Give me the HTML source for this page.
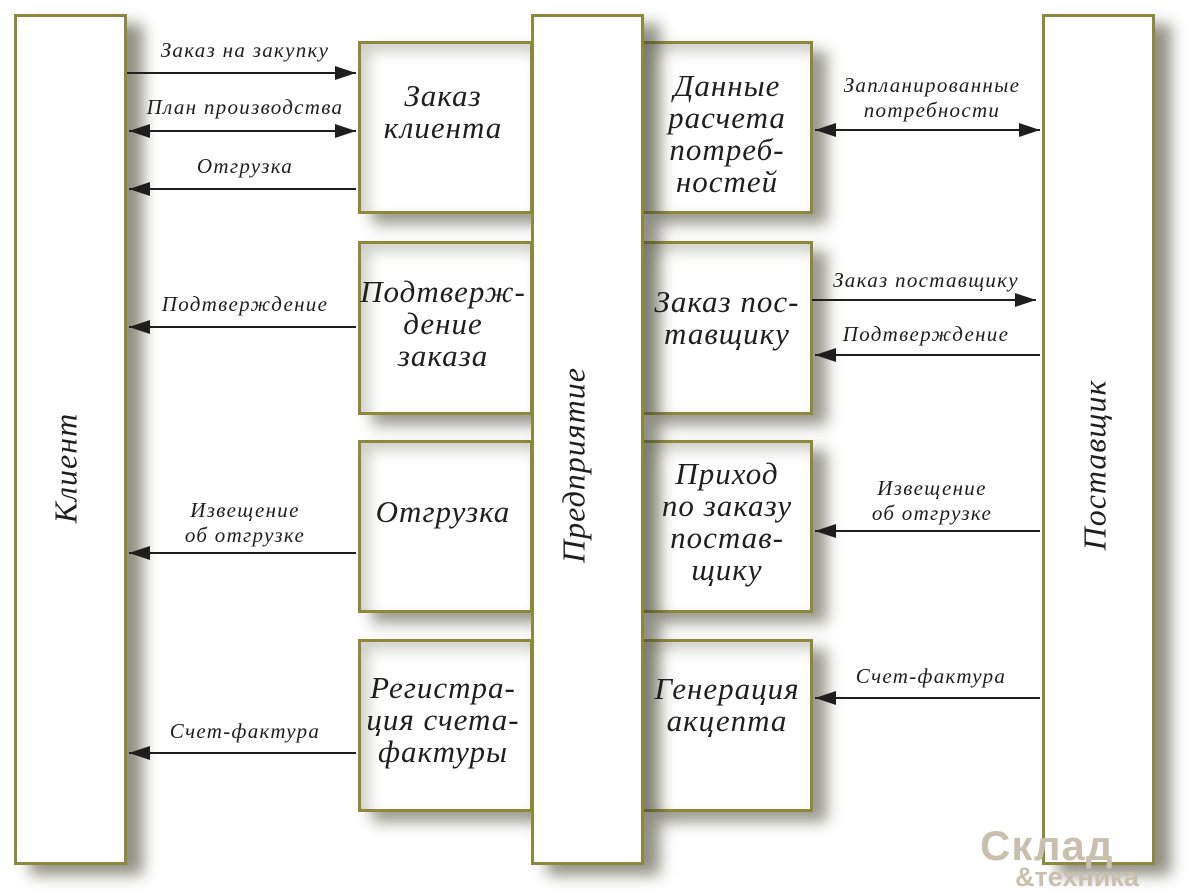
<!DOCTYPE html>
<html><head><meta charset="utf-8"><style>
body{margin:0;width:1200px;height:895px;background:#fff;position:relative;overflow:hidden;font-family:"Liberation Serif",serif;font-style:italic;color:#1e1e1e}
.b{position:absolute;box-sizing:border-box;border:3px solid #8c8a3a;background:#fff;box-shadow:14px 10px 14px rgba(70,70,50,.55), inset 8px 8px 14px rgba(120,120,100,.35)}
.bar{position:absolute;box-sizing:border-box;border:3px solid #8c8a3a;background:#fff;box-shadow:16px 10px 14px rgba(70,70,50,.6)}
.t{position:absolute;text-align:center;font-size:31px;line-height:32px;letter-spacing:1px;display:flex;align-items:center;justify-content:center;white-space:nowrap}
.v{position:absolute;font-size:32px;letter-spacing:1px;transform:translate(-50%,-50%) rotate(-90deg);white-space:nowrap}
.l{position:absolute;font-size:21px;line-height:25px;letter-spacing:1.3px;text-align:center;white-space:nowrap;transform:translateX(-50%)}
svg{position:absolute;left:0;top:0}
</style></head><body>
<div class="b" style="left:358px;top:41px;width:175px;height:173px"></div>
<div class="b" style="left:358px;top:241px;width:175px;height:174px"></div>
<div class="b" style="left:358px;top:440px;width:175px;height:173px"></div>
<div class="b" style="left:358px;top:639px;width:175px;height:173px"></div>
<div class="b" style="left:641px;top:41px;width:172px;height:173px"></div>
<div class="b" style="left:641px;top:241px;width:172px;height:174px"></div>
<div class="b" style="left:641px;top:440px;width:172px;height:173px"></div>
<div class="b" style="left:641px;top:639px;width:172px;height:173px"></div>
<div class="bar" style="left:14px;top:14px;width:113px;height:851px"></div>
<div class="bar" style="left:531px;top:14px;width:113px;height:851px"></div>
<div class="bar" style="left:1042px;top:14px;width:113px;height:851px"></div>
<div class="v" style="left:66px;top:468px">Клиент</div>
<div class="v" style="left:574px;top:465px">Предприятие</div>
<div class="v" style="left:1095px;top:465px">Поставщик</div>
<div class="t" style="left:358px;top:80px;width:170px;height:64px">Заказ<br>клиента</div>
<div class="t" style="left:358px;top:276px;width:170px;height:96px">Подтверж-<br>дение<br>заказа</div>
<div class="t" style="left:358px;top:494px;width:170px;height:36px">Отгрузка</div>
<div class="t" style="left:358px;top:672px;width:170px;height:96px">Регистра-<br>ция счета-<br>фактуры</div>
<div class="t" style="left:644px;top:70px;width:166px;height:128px">Данные<br>расчета<br>потреб-<br>ностей</div>
<div class="t" style="left:644px;top:286px;width:166px;height:64px">Заказ пос-<br>тавщику</div>
<div class="t" style="left:644px;top:458px;width:166px;height:128px">Приход<br>по заказу<br>постав-<br>щику</div>
<div class="t" style="left:644px;top:673px;width:166px;height:64px">Генерация<br>акцепта</div>
<div class="l" style="left:245px;top:38px">Заказ на закупку</div>
<div class="l" style="left:245px;top:95px">План производства</div>
<div class="l" style="left:245px;top:154px">Отгрузка</div>
<div class="l" style="left:245px;top:292px">Подтверждение</div>
<div class="l" style="left:245px;top:498px">Извещение<br>об отгрузке</div>
<div class="l" style="left:245px;top:719px">Счет-фактура</div>
<div class="l" style="left:932px;top:73px">Запланированные<br>потребности</div>
<div class="l" style="left:926px;top:268px">Заказ поставщику</div>
<div class="l" style="left:926px;top:322px">Подтверждение</div>
<div class="l" style="left:932px;top:476px">Извещение<br>об отгрузке</div>
<div class="l" style="left:931px;top:664px">Счет-фактура</div>
<svg width="1200" height="895">
<defs>
<marker id="a" markerWidth="22" markerHeight="16" refX="21" refY="8" orient="auto-start-reverse" markerUnits="userSpaceOnUse"><path d="M0,1L21,8L0,15z" fill="#1e1e1e"/></marker>
</defs>
<g stroke="#1e1e1e" stroke-width="2" fill="none">
<path d="M127,73H356" marker-end="url(#a)"/>
<path d="M129,131H356" marker-start="url(#a)" marker-end="url(#a)"/>
<path d="M129,189H356" marker-start="url(#a)"/>
<path d="M129,327H356" marker-start="url(#a)"/>
<path d="M129,553H356" marker-start="url(#a)"/>
<path d="M129,753H356" marker-start="url(#a)"/>
<path d="M815,130H1040" marker-start="url(#a)" marker-end="url(#a)"/>
<path d="M812,300H1036" marker-end="url(#a)"/>
<path d="M815,355H1040" marker-start="url(#a)"/>
<path d="M815,531H1040" marker-start="url(#a)"/>
<path d="M815,698H1040" marker-start="url(#a)"/>
</g>
<text x="980" y="860" font-family="Liberation Sans" font-weight="bold" font-style="normal" font-size="42" letter-spacing="1" fill="#c9bfae">Склад</text>
<text x="1015" y="886" font-family="Liberation Sans" font-weight="bold" font-style="normal" font-size="27" fill="#c9bfae">&amp;техника</text>
</svg>
</body></html>
